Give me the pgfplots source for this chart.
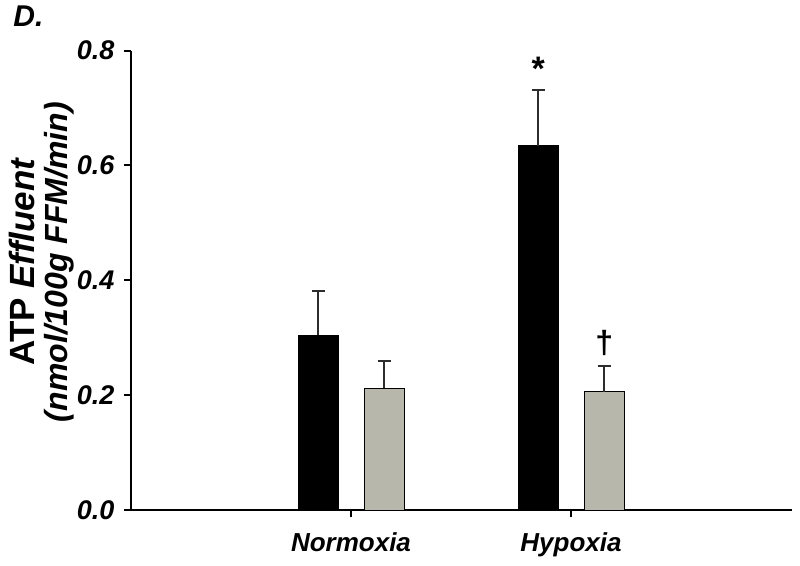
\documentclass[border=0pt]{standalone}
\usepackage{fontspec}
\setmainfont{Liberation Sans}
\usepackage{pgfplots}
\pgfplotsset{compat=1.18}
\definecolor{bargrey}{RGB}{183,183,171}
\definecolor{errgrey}{RGB}{45,45,45}
\begin{document}
\begin{tikzpicture}
\path[use as bounding box] (-65.75pt,-27.75pt) rectangle (334.25pt,255.25pt);
\begin{axis}[
  name=ax, at={(0,0)}, anchor=south west,
  scale only axis, width=330.25pt, height=230pt,
  xmin=131.5, xmax=792, ymin=0, ymax=0.8,
  axis lines*=left,
  axis line style={line width=1pt, black},
  tick style={line width=1pt, black},
  tick align=outside, major tick length=3.5pt,
  ytick={0,0.2,0.4,0.6,0.8},
  xtick={351,571}, xticklabels={Normoxia,Hypoxia},
  /pgf/number format/.cd, fixed, fixed zerofill, precision=1, assume math mode=true,
  /pgfplots/.cd,
  yticklabel style={font=\fontsize{13.5}{15}\selectfont\bfseries\itshape, xshift=-1.5pt},
  xticklabel style={font=\fontsize{13}{15}\selectfont\bfseries\itshape, yshift=-4pt},
  ylabel={{\fontsize{17.5}{18}\selectfont\textup{ATP} \textit{Effluent}}\\(nmol/100g FFM/min)},
  ylabel style={at={(axis description cs:-0.1355,0.54)}, anchor=center, align=center,
    font=\fontsize{16}{16.5}\selectfont\bfseries\itshape},
  clip=false,
  ybar, bar width=20pt,
  error bars/y dir=plus, error bars/y explicit,
  error bars/error mark options={rotate=90, mark size=3.25pt, line width=0.8pt, errgrey},
  error bars/error bar style={line width=0.8pt, errgrey},
]
\addplot[bar shift=0pt, fill=black, draw=black, line width=0.5pt]
  coordinates {(318.3,0.305) +- (0,0.077) (538.3,0.634) +- (0,0.097)};
\addplot[bar shift=0pt, fill=bargrey, draw=black, line width=0.5pt]
  coordinates {(384.2,0.2125) +- (0,0.048) (604.2,0.2066) +- (0,0.0447)};
\draw[line width=1pt] (axis cs:124.3,0) -- (axis cs:131.5,0);
\node[font=\fontsize{17}{18}\selectfont\bfseries] at (axis cs:538.3,0.768) {*};
\node[font=\fontsize{16}{17}\selectfont\bfseries] at (axis cs:604.2,0.292) {†};
\end{axis}
\node[anchor=base west, inner sep=0pt, font=\fontsize{15}{17}\selectfont\bfseries\itshape] at (-59.25pt,241.75pt) {D.};
\end{tikzpicture}
\end{document}
